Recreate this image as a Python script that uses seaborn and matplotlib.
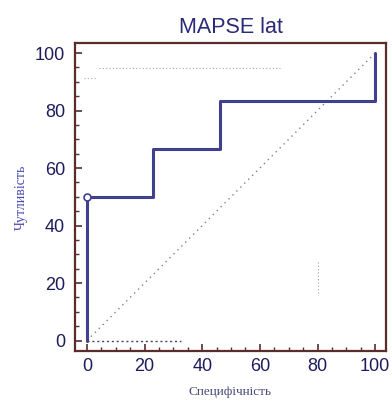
import matplotlib
matplotlib.use("Agg")
import matplotlib.pyplot as plt
import seaborn as sns
import pandas as pd
from matplotlib.ticker import MultipleLocator

sns.set_theme(style="white")
plt.rcParams["font.family"] = ["Liberation Sans", "DejaVu Sans"]

# ROC step curve (specificity axis, sensitivity axis), in percent
roc_x = [0, 0, 23, 23, 46, 46, 100, 100]
roc_y = [0, 50, 50, 66.7, 66.7, 83.3, 83.3, 100]

# chance line
diag_x = [0, 100]
diag_y = [0, 100]

# faint reference guides
upper_guide_x = [4, 67]
upper_guide_y = [94.7, 94.7]
short_guide_x = [-1, 3.5]
short_guide_y = [91.3, 91.3]
base_guide_x = [0, 32.5]
base_guide_y = [0, 0]
vert_guide_x = [80, 80]
vert_guide_y = [16.5, 28]

title = "MAPSE lat"
xlabel = "Специфічність"
ylabel = "Чутливість"
ticks = [0, 20, 40, 60, 80, 100]

roc_color = "#40408e"
spine_color = "#5a2c2c"
text_color = "#1c1c5c"

fig = plt.figure(figsize=(3.92, 4.09), dpi=100)
ax = fig.add_axes([0.191, 0.142, 0.794, 0.753])

roc = pd.DataFrame({"x": roc_x, "y": roc_y})
sns.lineplot(data=pd.DataFrame({"x": diag_x, "y": diag_y}), x="x", y="y", ax=ax,
             color="#808090", lw=1.0, linestyle=(0, (1, 3)), sort=False, estimator=None)
sns.lineplot(data=pd.DataFrame({"x": upper_guide_x, "y": upper_guide_y}), x="x", y="y", ax=ax,
             color="#a8a8b8", lw=0.8, linestyle=(0, (1, 2)), sort=False, estimator=None)
sns.lineplot(data=pd.DataFrame({"x": short_guide_x, "y": short_guide_y}), x="x", y="y", ax=ax,
             color="#c0a8a8", lw=0.8, linestyle=(0, (1, 2)), sort=False, estimator=None)
sns.lineplot(data=pd.DataFrame({"x": base_guide_x, "y": base_guide_y}), x="x", y="y", ax=ax,
             color="#44446a", lw=1.0, linestyle=(0, (1.5, 2)), sort=False, estimator=None)
sns.lineplot(data=pd.DataFrame({"x": vert_guide_x, "y": vert_guide_y}), x="x", y="y", ax=ax,
             color="#a0a0b0", lw=0.8, linestyle=(0, (1, 2)), sort=False, estimator=None)
sns.lineplot(data=roc, x="x", y="y", ax=ax, color=roc_color, lw=2.2,
             sort=False, estimator=None)
ax.plot([roc_x[1]], [roc_y[1]], marker="o", ms=5, mfc="white", mec=roc_color, mew=1.2,
        zorder=5, clip_on=False)

ax.set_xlim(-4.2, 103.8)
ax.set_ylim(-3.6, 103.5)
ax.set_xticks(ticks)
ax.set_yticks(ticks)
ax.xaxis.set_minor_locator(MultipleLocator(5))
ax.yaxis.set_minor_locator(MultipleLocator(5))

for s in ax.spines.values():
    s.set_visible(True)
    s.set_color(spine_color)
    s.set_linewidth(1.6)

ax.tick_params(axis="both", which="major", direction="in", length=5, width=1.2,
               color=spine_color, labelsize=13, labelcolor=text_color)
ax.tick_params(axis="x", which="major", pad=5)
ax.tick_params(axis="y", which="major", pad=7)
ax.tick_params(axis="both", which="minor", direction="in", length=3, width=1.0,
               color=spine_color)
ax.tick_params(bottom=True, left=True, which="both")

ax.set_title(title, fontsize=15.5, color="#2a2a78", pad=7)
ax.set_xlabel(xlabel, fontsize=9.5, color="#4a4a7a", family=["Liberation Serif", "DejaVu Serif"],
              labelpad=8)
ax.set_ylabel(ylabel, fontsize=10, color="#4a4ab0", family=["Liberation Serif", "DejaVu Serif"],
              labelpad=5)

fig.savefig("out.png", dpi=100, facecolor="white")
